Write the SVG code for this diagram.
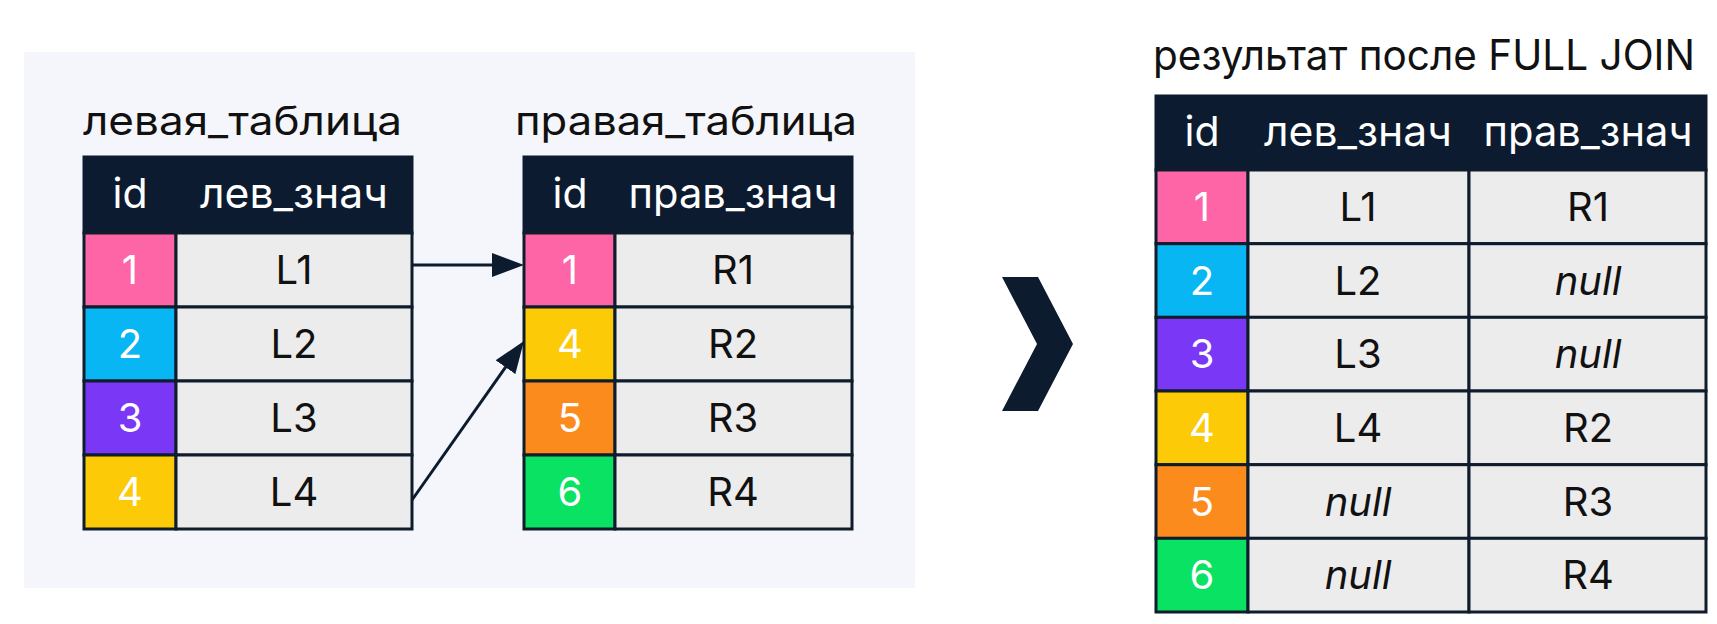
<svg xmlns="http://www.w3.org/2000/svg" width="1717" height="624" viewBox="0 0 1717 624">
<defs>
<marker id="arrow" viewBox="0 0 32 24" markerWidth="32" markerHeight="24" refX="22" refY="12" orient="auto" markerUnits="userSpaceOnUse">
<path d="M0,0 L32,12 L0,24 z" fill="#0c1b2e"/>
</marker>
</defs>
<style>
.title{font-family:Inter,"Liberation Sans",sans-serif;font-size:40px;fill:#111}
.rtitle{font-family:Inter,"Liberation Sans",sans-serif;font-size:42px;fill:#111}
.hdr{fill:#0c1b30;stroke:#0c1b30;stroke-width:3}
.htxt{font-family:Inter,"Liberation Sans",sans-serif;font-size:41px;fill:#ffffff;text-anchor:middle}
.cell{fill:#ececec;stroke:#0f1c2c;stroke-width:3}
.idtxt{font-family:Inter,"Liberation Sans",sans-serif;font-size:40px;fill:#ffffff;text-anchor:middle}
.vtxt{font-family:Inter,"Liberation Sans",sans-serif;font-size:40px;fill:#111;text-anchor:middle}
.null{font-style:italic}
.c1{fill:#fe65a6;stroke:#0f1c2c;stroke-width:3}
.c2{fill:#09b6f4;stroke:#0f1c2c;stroke-width:3}
.c3{fill:#7a38f6;stroke:#0f1c2c;stroke-width:3}
.c4{fill:#fcca07;stroke:#0f1c2c;stroke-width:3}
.c5{fill:#fb8b1c;stroke:#0f1c2c;stroke-width:3}
.c6{fill:#0ae264;stroke:#0f1c2c;stroke-width:3}
.conn{stroke:#0c1b2e;stroke-width:3;fill:none}
</style>
<rect x="0" y="0" width="1717" height="624" fill="#ffffff"/>
<rect id="panel" x="24" y="52" width="891" height="536" fill="#f5f6fb"/>

<g id="left-table">
<text class="title" x="83" y="135" textLength="319" lengthAdjust="spacingAndGlyphs">левая_таблица</text>
<rect class="hdr" x="84" y="157" width="328" height="76"/>
<text class="htxt" x="130" y="208">id</text>
<text class="htxt" x="294" y="208" textLength="188" lengthAdjust="spacingAndGlyphs">лев_знач</text>
<rect class="c1" x="84" y="233" width="92" height="74"/><rect class="cell" x="176" y="233" width="236" height="74"/>
<text class="idtxt" x="130" y="284">1</text><text class="vtxt" x="294" y="284">L1</text>
<rect class="c2" x="84" y="307" width="92" height="74"/><rect class="cell" x="176" y="307" width="236" height="74"/>
<text class="idtxt" x="130" y="358">2</text><text class="vtxt" x="294" y="358">L2</text>
<rect class="c3" x="84" y="381" width="92" height="74"/><rect class="cell" x="176" y="381" width="236" height="74"/>
<text class="idtxt" x="130" y="432">3</text><text class="vtxt" x="294" y="432">L3</text>
<rect class="c4" x="84" y="455" width="92" height="74"/><rect class="cell" x="176" y="455" width="236" height="74"/>
<text class="idtxt" x="130" y="506">4</text><text class="vtxt" x="294" y="506">L4</text>
</g>

<g id="right-table">
<text class="title" x="515" y="135" textLength="342" lengthAdjust="spacingAndGlyphs">правая_таблица</text>
<rect class="hdr" x="524" y="157" width="328" height="76"/>
<text class="htxt" x="570" y="208">id</text>
<text class="htxt" x="733" y="208" textLength="209" lengthAdjust="spacingAndGlyphs">прав_знач</text>
<rect class="c1" x="524" y="233" width="91" height="74"/><rect class="cell" x="615" y="233" width="237" height="74"/>
<text class="idtxt" x="570" y="284">1</text><text class="vtxt" x="733" y="284">R1</text>
<rect class="c4" x="524" y="307" width="91" height="74"/><rect class="cell" x="615" y="307" width="237" height="74"/>
<text class="idtxt" x="570" y="358">4</text><text class="vtxt" x="733" y="358">R2</text>
<rect class="c5" x="524" y="381" width="91" height="74"/><rect class="cell" x="615" y="381" width="237" height="74"/>
<text class="idtxt" x="570" y="432">5</text><text class="vtxt" x="733" y="432">R3</text>
<rect class="c6" x="524" y="455" width="91" height="74"/><rect class="cell" x="615" y="455" width="237" height="74"/>
<text class="idtxt" x="570" y="506">6</text><text class="vtxt" x="733" y="506">R4</text>
</g>

<g id="connectors">
<line class="conn" x1="412" y1="265" x2="514" y2="265" marker-end="url(#arrow)"/>
<line class="conn" x1="412" y1="500" x2="518.2" y2="349.2" marker-end="url(#arrow)"/>
</g>

<g id="chevron">
<polygon points="1002,277 1038,277 1073,344 1038,411 1002,411 1037,344" fill="#0c1b2e"/>
</g>

<g id="result-table">
<text class="rtitle" x="1153" y="70" textLength="542" lengthAdjust="spacingAndGlyphs">результат после FULL JOIN</text>
<rect class="hdr" x="1156" y="96" width="550" height="74"/>
<text class="htxt" x="1202" y="146">id</text>
<text class="htxt" x="1358" y="146" textLength="188" lengthAdjust="spacingAndGlyphs">лев_знач</text>
<text class="htxt" x="1588" y="146" textLength="209" lengthAdjust="spacingAndGlyphs">прав_знач</text>

<rect class="c1" x="1156" y="170" width="92" height="73.7"/><rect class="cell" x="1248" y="170" width="221" height="73.7"/><rect class="cell" x="1469" y="170" width="237" height="73.7"/>
<text class="idtxt" x="1202" y="221">1</text><text class="vtxt" x="1358" y="221">L1</text><text class="vtxt" x="1588" y="221">R1</text>

<rect class="c2" x="1156" y="243.7" width="92" height="73.7"/><rect class="cell" x="1248" y="243.7" width="221" height="73.7"/><rect class="cell" x="1469" y="243.7" width="237" height="73.7"/>
<text class="idtxt" x="1202" y="295">2</text><text class="vtxt" x="1358" y="295">L2</text><text class="vtxt null" x="1588" y="295">null</text>

<rect class="c3" x="1156" y="317.3" width="92" height="73.7"/><rect class="cell" x="1248" y="317.3" width="221" height="73.7"/><rect class="cell" x="1469" y="317.3" width="237" height="73.7"/>
<text class="idtxt" x="1202" y="368">3</text><text class="vtxt" x="1358" y="368">L3</text><text class="vtxt null" x="1588" y="368">null</text>

<rect class="c4" x="1156" y="391" width="92" height="73.7"/><rect class="cell" x="1248" y="391" width="221" height="73.7"/><rect class="cell" x="1469" y="391" width="237" height="73.7"/>
<text class="idtxt" x="1202" y="442">4</text><text class="vtxt" x="1358" y="442">L4</text><text class="vtxt" x="1588" y="442">R2</text>

<rect class="c5" x="1156" y="464.7" width="92" height="73.7"/><rect class="cell" x="1248" y="464.7" width="221" height="73.7"/><rect class="cell" x="1469" y="464.7" width="237" height="73.7"/>
<text class="idtxt" x="1202" y="516">5</text><text class="vtxt null" x="1358" y="516">null</text><text class="vtxt" x="1588" y="516">R3</text>

<rect class="c6" x="1156" y="538.3" width="92" height="73.7"/><rect class="cell" x="1248" y="538.3" width="221" height="73.7"/><rect class="cell" x="1469" y="538.3" width="237" height="73.7"/>
<text class="idtxt" x="1202" y="589">6</text><text class="vtxt null" x="1358" y="589">null</text><text class="vtxt" x="1588" y="589">R4</text>
</g>
</svg>
